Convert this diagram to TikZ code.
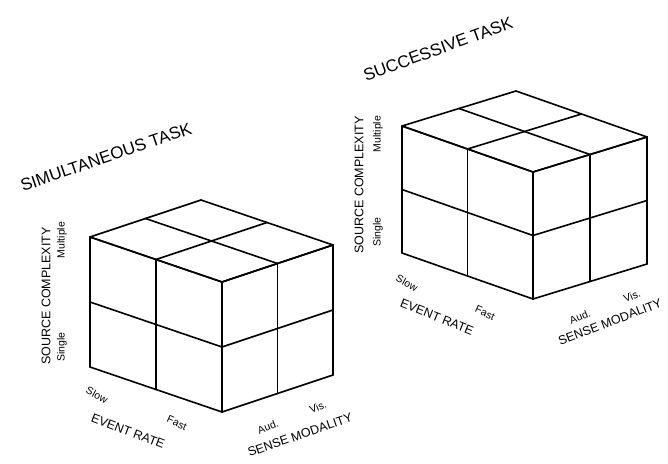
\documentclass[tikz,border=0pt]{standalone}
\usepackage{fontspec}
\setmainfont{Liberation Sans}
\usetikzlibrary{positioning}

\begin{document}
\begin{tikzpicture}[
    x=1pt, y=-1pt,
    edge/.style={line width=1.6pt, line cap=round, line join=round, draw=black},
    title/.style={font=\fontsize{17}{17}\selectfont, inner sep=0pt},
    axis/.style={font=\fontsize{12.5}{12.5}\selectfont, inner sep=0pt},
    level/.style={font=\fontsize{10.5}{10.5}\selectfont, inner sep=0pt}
]
    \useasboundingbox (0,0) rectangle (668,463);

    % the two 2x2x2 cubes: front top corner, left and right edge, height
    \foreach \fx/\fy/\lx/\ly/\rx/\ry/\h in {222/282/-132/-45/111/-37/130, 533/172/-131/-46/114/-35/127} {
        \begin{scope}[shift={(\fx,\fy)}]
            \foreach \t in {0,0.5,1} {
                \draw[edge] ({\t*\lx},{\t*\ly}) -- ++(\rx,\ry);
                \draw[edge] ({\t*\rx},{\t*\ry}) -- ++(\lx,\ly);
                \draw[edge] ({\t*\lx},{\t*\ly}) -- ++(0,\h);
                \draw[edge] ({\t*\rx},{\t*\ry}) -- ++(0,\h);
                \draw[edge] (0,{\t*\h}) -- ++(\lx,\ly);
                \draw[edge] (0,{\t*\h}) -- ++(\rx,\ry);
            }
        \end{scope}
    }

    % simultaneous task
    \node[title, rotate=19] (simtitle) at (106,157) {SIMULTANEOUS TASK};
    \node[axis, rotate=90] (simsource) at (46,296) {SOURCE COMPLEXITY};
    \node[level, rotate=90] (simmulti) at (62,240) {Multiple};
    \node[level, rotate=90] (simsingle) at (62,347) {Single};
    \node[level, rotate=-28] (simslow) at (97,395) {Slow};
    \node[level, rotate=-25] (simfast) at (177,423) {Fast};
    \node[axis, rotate=-21] (simrate) at (128,431) {EVENT RATE};
    \node[level, rotate=22] (simaud) at (268,427) {Aud.};
    \node[level, rotate=22] (simvis) at (318,407) {Vis.};
    \node[axis, rotate=19] (simsense) at (300,435) {SENSE MODALITY};

    % successive task
    \node[title, rotate=20] (suctitle) at (438,49) {SUCCESSIVE TASK};
    \node[axis, rotate=90] (sucsource) at (359,185) {SOURCE COMPLEXITY};
    \node[level, rotate=90] (sucmulti) at (378,134) {Multiple};
    \node[level, rotate=90] (sucsingle) at (378,232) {Single};
    \node[level, rotate=-28] (sucslow) at (407,283) {Slow};
    \node[level, rotate=-25] (sucfast) at (485,313) {Fast};
    \node[axis, rotate=-22] (sucrate) at (437,317) {EVENT RATE};
    \node[level, rotate=22] (sucaud) at (580,317) {Aud.};
    \node[level, rotate=22] (sucvis) at (632,296) {Vis.};
    \node[axis, rotate=21] (sucsense) at (610,322) {SENSE MODALITY};
\end{tikzpicture}
\end{document}
